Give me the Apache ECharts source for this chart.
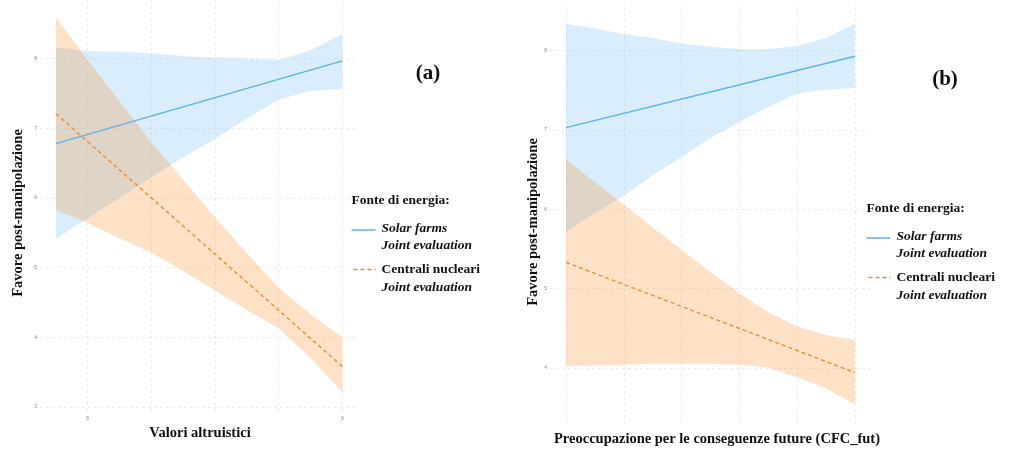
<!DOCTYPE html>
<html>
<head>
<meta charset="utf-8">
<script src="https://cdn.jsdelivr.net/npm/echarts@6/dist/echarts.min.js"></script>
<style>
  html, body { margin: 0; padding: 0; background: #ffffff; }
  #chart { width: 1010px; height: 453px; }
</style>
</head>
<body>
<div id="chart"></div>
<script>
// Panel (a): Valori altruistici
const xA = [4.5, 5, 5.5, 6, 6.5, 7, 7.5, 8, 8.5, 9];
const solarUpperA   = [8.16, 8.11, 8.10, 8.08, 8.04, 8.01, 8.00, 7.98, 8.12, 8.35];
const solarLowerA   = [5.41, 5.71, 6.00, 6.30, 6.58, 6.85, 7.14, 7.41, 7.54, 7.56];
const nuclearUpperA = [8.59, 7.98, 7.39, 6.80, 6.26, 5.72, 5.21, 4.71, 4.33, 4.00];
const nuclearLowerA = [5.83, 5.64, 5.42, 5.21, 4.95, 4.67, 4.39, 4.13, 3.70, 3.21];
const fitXA = [4.5, 9];
const solarFitA   = [6.78, 7.97];
const nuclearFitA = [7.21, 3.58];
const xTicksA = [5, 9];
const yTicksA = [3, 4, 5, 6, 7, 8];

// Panel (b): Preoccupazione per le conseguenze future (CFC_fut)
const xB = [1, 1.5, 2, 2.5, 3, 3.5, 4, 4.5, 5, 5.5, 6];
const solarUpperB   = [8.34, 8.28, 8.21, 8.16, 8.09, 8.05, 8.02, 8.02, 8.06, 8.16, 8.34];
const solarLowerB   = [5.72, 5.95, 6.17, 6.43, 6.66, 6.90, 7.10, 7.29, 7.46, 7.51, 7.53];
const nuclearUpperB = [6.63, 6.34, 6.06, 5.77, 5.49, 5.21, 4.94, 4.70, 4.52, 4.41, 4.35];
const nuclearLowerB = [4.02, 4.03, 4.04, 4.05, 4.05, 4.05, 4.04, 4.00, 3.88, 3.74, 3.54];
const fitXB = [1, 6];
const solarFitB   = [7.03, 7.93];
const nuclearFitB = [5.33, 3.94];
const yTicksB = [4, 5, 6, 7, 8];

const legendTitle = 'Fonte di energia:';
const solarName = 'Solar farms';
const nuclearName = 'Centrali nucleari';
const condName = 'Joint evaluation';
const yTitle = 'Favore post-manipolazione';
const xTitleA = 'Valori altruistici';
const xTitleB = 'Preoccupazione per le conseguenze future (CFC_fut)';

const SERIF = '"Liberation Serif", "DejaVu Serif", serif';
const BLUE_LINE = '#5AB2EE';
const ORANGE_LINE = '#F4842C';
const BLUE_FILL = 'rgba(103,183,243,0.25)';
const ORANGE_FILL = 'rgba(247,139,35,0.25)';
const GRID_LINE = { show: true, lineStyle: { color: '#E6E6E6', width: 0.8, type: [3, 3] } };
const TICK_LABEL = { fontSize: 5, color: '#888', fontFamily: 'Liberation Sans' };

// Confidence band: invisible lower edge + stacked width filled above it
function bandSeries(xs, lower, upper, fill, stack, axisIdx) {
  const cats = xs.map(String);
  return [
    {
      type: 'line', xAxisIndex: axisIdx, yAxisIndex: axisIdx, stack: stack,
      data: cats.map((c, i) => [c, lower[i]]),
      symbol: 'none', smooth: false, clip: false, silent: true,
      lineStyle: { opacity: 0 }
    },
    {
      type: 'line', xAxisIndex: axisIdx, yAxisIndex: axisIdx, stack: stack,
      data: cats.map((c, i) => [c, +(upper[i] - lower[i]).toFixed(3)]),
      symbol: 'none', smooth: false, clip: false, silent: true,
      lineStyle: { opacity: 0 },
      areaStyle: { color: fill, opacity: 1 }
    }
  ];
}

function fitSeries(xs, ys, color, dashed, axisIdx) {
  return {
    type: 'line', xAxisIndex: axisIdx, yAxisIndex: axisIdx,
    data: xs.map((x, i) => [String(x), ys[i]]),
    symbol: 'none', clip: false, silent: true, z: 5,
    lineStyle: { color: color, width: 1.3, type: dashed ? [4, 3] : 'solid' }
  };
}

const chart = echarts.init(document.getElementById('chart'), null, { renderer: 'canvas' });

const option = {
  animation: false,
  backgroundColor: '#ffffff',
  grid: [
    // (a) vertical grid lines + x labels
    { left: 87.7, top: 0, width: 254.6, height: 413 },
    // (a) horizontal grid lines + y labels
    { left: 40, top: 58.7, width: 318, height: 348.1 },
    // (a) data
    { left: 55.9, top: 58.7, width: 286.4, height: 348.1 },
    // (b) vertical grid lines
    { left: 566, top: 7, width: 289, height: 418 },
    // (b) horizontal grid lines + y labels
    { left: 550, top: 50.7, width: 320, height: 317.1 },
    // (b) data
    { left: 566, top: 50.7, width: 289, height: 317.1 }
  ],
  xAxis: [
    { gridIndex: 0, type: 'value', min: 5, max: 9, interval: 1,
      axisLine: { show: false }, axisTick: { show: false }, splitLine: GRID_LINE,
      axisLabel: Object.assign({ margin: 3, formatter: v => xTicksA.includes(v) ? String(v) : '' }, TICK_LABEL) },
    { gridIndex: 1, type: 'value', min: 0, max: 1, show: false },
    { gridIndex: 2, type: 'category', data: xA.map(String), boundaryGap: false, show: false },
    { gridIndex: 3, type: 'value', min: 1, max: 6, interval: 1,
      axisLine: { show: false }, axisTick: { show: false }, splitLine: GRID_LINE,
      axisLabel: { show: false } },
    { gridIndex: 4, type: 'value', min: 0, max: 1, show: false },
    { gridIndex: 5, type: 'category', data: xB.map(String), boundaryGap: false, show: false }
  ],
  yAxis: [
    { gridIndex: 0, type: 'value', min: 0, max: 1, show: false },
    { gridIndex: 1, type: 'value', min: yTicksA[0], max: yTicksA[yTicksA.length - 1], interval: 1,
      axisLine: { show: false }, axisTick: { show: false }, splitLine: GRID_LINE,
      axisLabel: Object.assign({ margin: 3 }, TICK_LABEL) },
    { gridIndex: 2, type: 'value', min: yTicksA[0], max: yTicksA[yTicksA.length - 1], show: false },
    { gridIndex: 3, type: 'value', min: 0, max: 1, show: false },
    { gridIndex: 4, type: 'value', min: yTicksB[0], max: yTicksB[yTicksB.length - 1], interval: 1,
      axisLine: { show: false }, axisTick: { show: false }, splitLine: GRID_LINE,
      axisLabel: Object.assign({ margin: 3 }, TICK_LABEL) },
    { gridIndex: 5, type: 'value', min: yTicksB[0], max: yTicksB[yTicksB.length - 1], show: false }
  ],
  series: [
    ...bandSeries(xA, solarLowerA, solarUpperA, BLUE_FILL, 'solarA', 2),
    ...bandSeries(xA, nuclearLowerA, nuclearUpperA, ORANGE_FILL, 'nuclearA', 2),
    fitSeries(fitXA, solarFitA, BLUE_LINE, false, 2),
    fitSeries(fitXA, nuclearFitA, ORANGE_LINE, true, 2),
    ...bandSeries(xB, solarLowerB, solarUpperB, BLUE_FILL, 'solarB', 5),
    ...bandSeries(xB, nuclearLowerB, nuclearUpperB, ORANGE_FILL, 'nuclearB', 5),
    fitSeries(fitXB, solarFitB, BLUE_LINE, false, 5),
    fitSeries(fitXB, nuclearFitB, ORANGE_LINE, true, 5)
  ],
  graphic: []
};

// Axis titles, panel tags and legends
function txt(text, x, y, size, opts) {
  opts = opts || {};
  return {
    type: 'text', x: x, y: y, rotation: opts.rotation || 0, z: 10, silent: true,
    style: {
      text: text, fill: '#111111',
      font: (opts.italic ? 'italic ' : '') + 'bold ' + size + 'px ' + SERIF,
      align: opts.align || 'center', verticalAlign: 'middle'
    }
  };
}

function legendBlock(x, y) {
  // x: left of the key line, y: centre of the title line
  return [
    txt(legendTitle, x, y, 13.5, { align: 'left' }),
    { type: 'line', z: 10, silent: true,
      shape: { x1: x, y1: y + 29.5, x2: x + 24, y2: y + 29.5 },
      style: { stroke: '#7DBFF0', lineWidth: 1.8 } },
    txt(solarName, x + 30, y + 28, 13.5, { align: 'left', italic: true }),
    txt(condName, x + 30, y + 45, 13.5, { align: 'left', italic: true }),
    { type: 'line', z: 10, silent: true,
      shape: { x1: x + 2, y1: y + 69, x2: x + 24, y2: y + 69 },
      style: { stroke: ORANGE_LINE, lineWidth: 1.4, lineDash: [4, 3] } },
    txt(nuclearName, x + 30, y + 69, 13.5, { align: 'left' }),
    txt(condName, x + 30, y + 87, 13.5, { align: 'left', italic: true })
  ];
}

option.graphic = [
  txt(yTitle, 18, 213, 14.5, { rotation: Math.PI / 2 }),
  txt(xTitleA, 200, 433, 14.5),
  txt(yTitle, 533, 222, 14.5, { rotation: Math.PI / 2 }),
  txt(xTitleB, 717, 439, 14.5),
  txt('(a)', 428, 74, 21),
  txt('(b)', 945, 80, 21),
  ...legendBlock(351.5, 200.5),
  ...legendBlock(866.5, 208.5)
];

chart.setOption(option);
</script>
</body>
</html>
